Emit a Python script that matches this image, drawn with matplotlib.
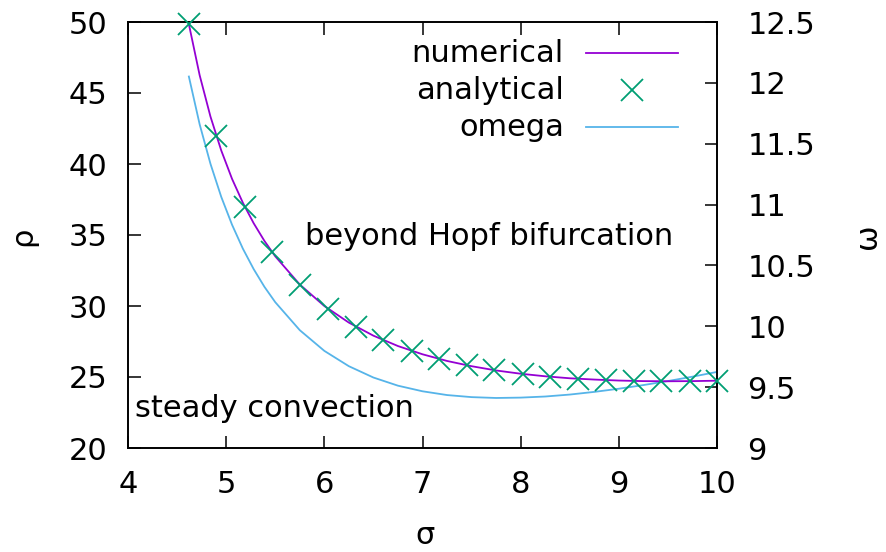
import matplotlib
matplotlib.use("Agg")
import matplotlib.pyplot as plt

# analytical (crosses)
sigma_an = [4.62, 4.90, 5.19, 5.47, 5.75, 6.04, 6.32, 6.60, 6.89, 7.17,
            7.45, 7.73, 8.02, 8.30, 8.58, 8.87, 9.15, 9.43, 9.72, 10.00]
rho_an = [49.85, 41.98, 36.99, 33.78, 31.51, 29.79, 28.55, 27.60, 26.84, 26.27,
          25.83, 25.49, 25.21, 25.02, 24.88, 24.78, 24.72, 24.70, 24.71, 24.74]

# numerical curve and omega
sigma_num = [4.62, 4.73, 4.84, 4.95, 5.06, 5.17, 5.28, 5.39, 5.50, 5.75, 6.00,
             6.25, 6.50, 6.75, 7.00, 7.25, 7.50, 7.75, 8.00, 8.25, 8.50, 8.75,
             9.00, 9.25, 9.50, 9.75, 10.00]
rho_num = [49.85, 46.25, 43.34, 40.95, 38.95, 37.27, 35.83, 34.58, 33.50, 31.51,
           30.00, 28.83, 27.91, 27.18, 26.60, 26.13, 25.76, 25.46, 25.23, 25.05,
           24.91, 24.82, 24.75, 24.71, 24.70, 24.71, 24.74]
omega = [12.052, 11.659, 11.335, 11.063, 10.834, 10.638, 10.470, 10.324, 10.198,
         9.968, 9.798, 9.672, 9.579, 9.512, 9.466, 9.435, 9.418, 9.411, 9.414,
         9.423, 9.439, 9.461, 9.487, 9.517, 9.550, 9.586, 9.625]

x_ticks = [4, 5, 6, 7, 8, 9, 10]
y_ticks = [20, 25, 30, 35, 40, 45, 50]
w_ticks = [9, 9.5, 10, 10.5, 11, 11.5, 12, 12.5]
w_ticklabels = ["9", "9.5", "10", "10.5", "11", "11.5", "12", "12.5"]

PURPLE = "#9400d3"
GREEN = "#009e73"
BLUE = "#56b4e9"
FS = 22

plt.rcParams['font.family'] = ['DejaVu Sans']
fig = plt.figure(figsize=(8.86, 5.52), dpi=100)
ax = fig.add_axes([128/886, 1-448/552, (717-128)/886, (448-22)/552])
ax2 = ax.twinx()

ax.plot(sigma_num, rho_num, color=PURPLE, lw=1.3, zorder=3)
ax.plot(sigma_an, rho_an, ls='none', marker='x', ms=16, mew=1.3, color=GREEN,
        zorder=4, clip_on=False)
ax2.plot(sigma_num, omega, color=BLUE, lw=1.3)

ax.set_xlim(4, 10)
ax.set_ylim(20, 50)
ax2.set_ylim(9, 12.5)
ax.set_xticks(x_ticks)
ax.set_xticklabels([str(v) for v in x_ticks])
ax.set_yticks(y_ticks)
ax.set_yticklabels([str(v) for v in y_ticks])
ax2.set_yticks(w_ticks)
ax2.set_yticklabels(w_ticklabels)

for a in (ax, ax2):
    for s in a.spines.values():
        s.set_linewidth(1.2)
ax.tick_params(axis='x', direction='in', length=9, width=1.1, top=True,
               labelsize=FS, pad=16)
ax.tick_params(axis='y', direction='in', length=9, width=1.1, right=False,
               labelsize=FS, pad=15)
ax2.tick_params(axis='y', direction='in', length=9, width=1.1, labelsize=FS, pad=22)
ax.set_zorder(ax2.get_zorder() + 1)
ax.patch.set_visible(False)

# axis labels (placed like gnuplot)
fig.text(425/886, 1-536/552, "σ", fontsize=FS, ha='center', va='center')
fig.text(23/886, 1-236/552, "ρ", fontsize=FS, ha='center', va='center', rotation=90)
fig.text(868/886, 1-236/552, "ω", fontsize=FS, ha='center', va='center', rotation=90)

ax.text(5.806, 34.86, "beyond Hopf bifurcation", fontsize=FS, va='center', ha='left')
ax.text(4.07, 22.8, "steady convection", fontsize=FS, va='center', ha='left')

# gnuplot-style key
labels = ["numerical", "analytical", "omega"]
ys = [53, 90, 127]
for lab, yp in zip(labels, ys):
    fig.text(564/886, 1-yp/552, lab, fontsize=FS, ha='right', va='center')
fig.add_artist(plt.Line2D([586/886, 678/886], [1-53/552]*2, color=PURPLE, lw=1.3))
fig.add_artist(plt.Line2D([632/886], [1-90/552], ls='none', marker='x', ms=16,
                          mew=1.3, color=GREEN))
fig.add_artist(plt.Line2D([586/886, 678/886], [1-127/552]*2, color=BLUE, lw=1.3))

fig.savefig("out.png", dpi=100)
